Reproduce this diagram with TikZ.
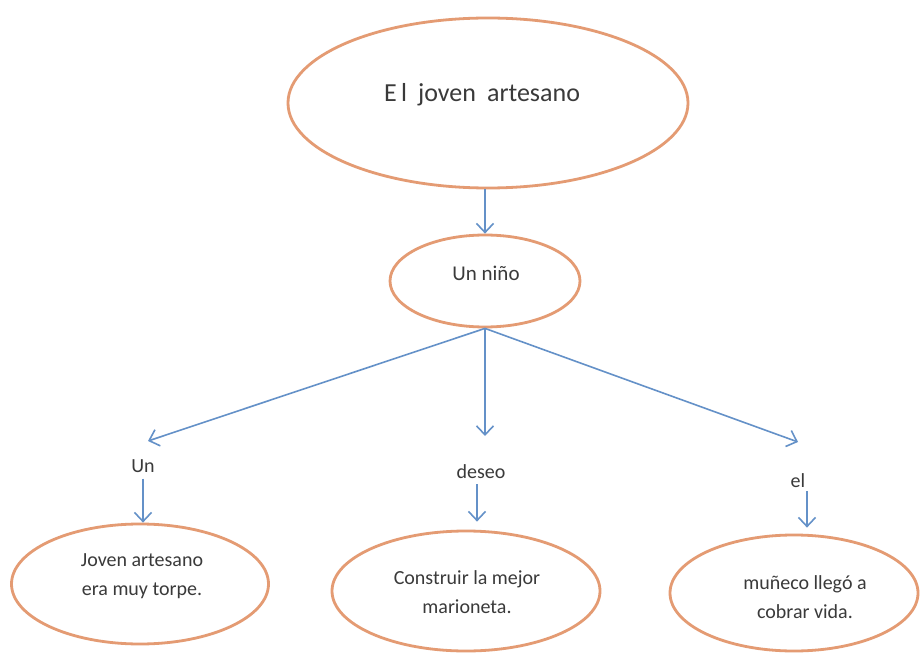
\documentclass[tikz,border=0pt]{standalone}
\usepackage{fontspec}
\setmainfont{Carlito}
\usetikzlibrary{shapes.geometric,arrows.meta}
\definecolor{rim}{RGB}{228,155,115}
\definecolor{linkblue}{RGB}{100,145,200}
\definecolor{ink}{RGB}{58,58,58}
\begin{document}
\begin{tikzpicture}[x=1pt,y=-1pt,
  oval/.style={ellipse, draw=rim, line width=2.8pt, inner sep=0pt},
  txt/.style={text=ink, inner sep=0pt, align=center, font=\fontsize{20}{29}\selectfont},
  link/.style={draw=linkblue, line width=1.6pt, -{Straight Barb[length=9pt,width=17pt]}}]
\useasboundingbox (0,0) rectangle (921,655);
\fill[white] (0,0) rectangle (921,655);

% title and first level
\node[oval, minimum width=400pt, minimum height=170pt] (top) at (488,103) {};
\node[txt, font=\fontsize{26}{30}\selectfont, anchor=base] (toptext) at (482,102)
  {E\kern4.5pt l\hspace{11pt}joven\hspace{11pt}artesano};
\node[oval, minimum width=190pt, minimum height=92pt] (nino) at (485,281) {};
\node[txt, font=\fontsize{21}{25}\selectfont, anchor=base] (ninotext) at (486,280) {Un niño};

\draw[link] (nino.north |- top.south) -- (nino.north);

% connecting words
\node[txt] (un) at (143,466) {Un};
\node[txt] (deseo) at (481,472) {deseo};
\node[txt] (el) at (798,481) {el};

\coordinate (tipL) at (148,441);
\coordinate (tipM) at (480,436);
\coordinate (tipR) at (798,442);
\draw[link] (nino.south) -- (tipL);
\draw[link] (nino.south) -- (nino.south |- tipM);
\draw[link] (nino.south) -- (tipR);

% bottom ellipses
\node[oval, minimum width=257pt, minimum height=120pt] (left) at (140,584) {};
\node[txt] (lefttext) at (142,576) {Joven artesano\\era muy torpe.};
\node[oval, minimum width=268pt, minimum height=120pt] (mid) at (466,591) {};
\node[txt] (midtext) at (467,592) {Construir la mejor\\marioneta.};
\node[oval, minimum width=248pt, minimum height=116pt] (right) at (794,593) {};
\node[txt] (righttext) at (805,597) {muñeco llegó a\\cobrar vida.};

\draw[link, shorten <=6pt] (un.south) -- (un.south |- left.north);
\draw[link, shorten <=5pt, shorten >=8pt] ([xshift=-4pt]deseo.south) -- ([xshift=-4pt]deseo.south |- mid.north);
\draw[link, shorten <=3pt, shorten >=6pt] ([xshift=9pt]el.south) -- ([xshift=9pt]el.south |- right.north);
\end{tikzpicture}
\end{document}
